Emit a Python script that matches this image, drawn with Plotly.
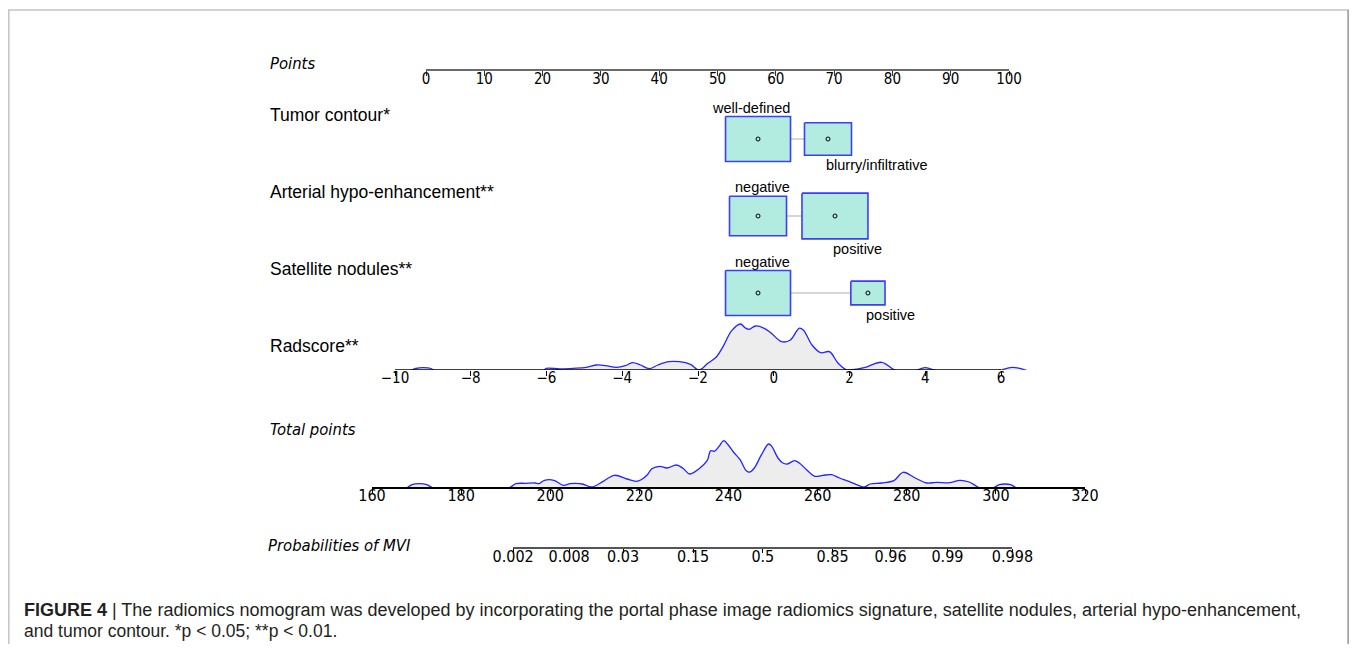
import numpy as np
import plotly.graph_objects as go

# reference canvas and page offset (browser body margin)
REF_W, REF_H = 1357, 652
OFF = 8
W, H = REF_W - 2 * OFF, REF_H - 2 * OFF

# ---------------- data ----------------
points_ticks = list(range(0, 101, 10))
rad_ticks = [-10, -8, -6, -4, -2, 0, 2, 4, 6]
total_ticks = list(range(160, 321, 20))
prob_ticks = [0.002, 0.008, 0.03, 0.15, 0.5, 0.85, 0.96, 0.99, 0.998]
prob_labels = ["0.002", "0.008", "0.03", "0.15", "0.5", "0.85", "0.96", "0.99", "0.998"]

tumor_levels = ["well-defined", "blurry/infiltrative"]
tumor_points = [56.95, 68.95]
tumor_freq = [0.65, 0.34]

art_levels = ["negative", "positive"]
art_points = [56.95, 70.15]
art_freq = [0.50, 0.67]

sat_levels = ["negative", "positive"]
sat_points = [56.95, 75.8]
sat_freq = [0.65, 0.18]

# Radscore density (radscore value, relative density)
rad_x = [-9.60, -9.45, -9.25, -9.05, -8.95, -7.5, -6.10, -6.00, -5.65, -5.30, -4.95, -4.67,
         -4.44, -4.15, -3.92, -3.73, -3.52, -3.29, -3.06, -2.77, -2.49, -2.20, -1.97,
         -1.74, -1.51, -1.34, -1.11, -0.88, -0.75, -0.65, -0.48, -0.25, -0.08, 0.21,
         0.44, 0.67, 0.78, 1.01, 1.24, 1.47, 1.70, 1.93, 2.00, 2.39, 2.85, 3.19, 3.45,
         3.70, 4.00, 4.34, 5.1, 5.89, 6.30, 6.69]
rad_d = [-0.01, 0.015, 0.023, 0.015, -0.01, -0.03, -0.01, 0.017, 0.010, 0.017, 0.027, 0.050,
         0.043, 0.027, 0.043, 0.073, 0.050, 0.013, 0.050, 0.083, 0.083, 0.057, 0.0,
         0.067, 0.133, 0.233, 0.393, 0.460, 0.420, 0.407, 0.440, 0.417, 0.373, 0.283,
         0.300, 0.417, 0.400, 0.250, 0.173, 0.183, 0.067, 0.0, 0.0, 0.023, 0.077, 0.0, -0.02,
         -0.01, 0.023, -0.01, -0.03, -0.01, 0.027, -0.005]

# Total points density (total points, relative density)
tot_x = [167.8, 169.0, 170.6, 172.3, 173.8, 182.0, 190.7, 192.3, 194.5, 196.6, 197.4, 198.7,
         200.8, 202.9, 204.5, 207.2, 209.3, 211.9, 214.4, 217.2, 219.3, 220.4, 221.8,
         222.8, 224.6, 226.2, 228.3, 229.7, 231.3, 233.4, 235.2, 236.0, 236.8, 237.9,
         238.9, 240.0, 241.1, 242.6, 244.0, 244.8, 245.8, 247.4, 249.0, 249.7, 251.1,
         252.2, 253.2, 254.8, 255.9, 257.5, 259.4, 261.2, 263.1, 264.9, 267.0, 269.7,
         270.5, 271.8, 274.4, 277.1, 279.2, 281.9, 284.5, 286.6, 289.8, 291.9, 294.0,
         296.2, 297.8, 299.3, 300.8, 302.0, 303.3, 304.6]
tot_d = [-0.01, 0.023, 0.033, 0.023, -0.01, -0.03, -0.01, 0.033, 0.037, 0.040, 0.033, 0.067,
         0.067, 0.017, 0.033, 0.030, 0.0, 0.057, 0.117, 0.080, 0.057, 0.073, 0.123,
         0.183, 0.207, 0.190, 0.220, 0.190, 0.130, 0.183, 0.263, 0.363, 0.357, 0.407,
         0.463, 0.417, 0.350, 0.273, 0.163, 0.150, 0.190, 0.323, 0.430, 0.407, 0.290,
         0.240, 0.230, 0.263, 0.240, 0.173, 0.107, 0.117, 0.123, 0.090, 0.057, 0.007,
         0.0, 0.030, 0.040, 0.063, 0.147, 0.090, 0.040, 0.047, 0.043, 0.067, 0.050,
         -0.005, -0.02, -0.01, 0.023, 0.030, 0.023, -0.01]

# logistic link: logit(p) = slope * (TP - tp50)
lp_slope = 0.1109
tp50 = 247.7

# ---------------- layout constants (reference pixels) ----------------
PTS_PX = (426, 1009)            # 0 .. 100 points
RAD_PX0, RAD_PPU = 395, 37.875  # radscore -10 position, px per unit
TOT_PX = (372, 1085)            # 160 .. 320
ROW_PTS = 70
ROW_BOX = [139, 216, 293]
ROW_RAD = 370
ROW_TOT = 487
ROW_PROB = 548
DENS_H = 47
BOX_KW, BOX_KH = 80.6, 55.8

NARROW = "Liberation Sans Narrow, Arial Narrow, DejaVu Sans Condensed, sans-serif"
REG = "Liberation Sans, Arial, Helvetica, sans-serif"


def fx(px):
    return (px - OFF) / W


def fy(py):
    return 1 - (py - OFF) / H


pts_per_px = (points_ticks[-1] - points_ticks[0]) / (PTS_PX[1] - PTS_PX[0])

fig = go.Figure()

# ---------------- categorical rows ----------------
rows = [("Tumor contour*", tumor_levels, tumor_points, tumor_freq),
        ("Arterial hypo-enhancement**", art_levels, art_points, art_freq),
        ("Satellite nodules**", sat_levels, sat_points, sat_freq)]

annotations = []
for (title, levels, pts, freq), yc in zip(rows, ROW_BOX):
    fig.add_trace(go.Scatter(x=[min(pts), max(pts)], y=[yc, yc], mode="lines",
                             line=dict(color="#c8c8c8", width=1.5),
                             xaxis="x", yaxis="y", hoverinfo="skip", showlegend=False))
    for i, (lev, p, f) in enumerate(zip(levels, pts, freq)):
        hw = BOX_KW * np.sqrt(f) / 2 * pts_per_px
        hh = BOX_KH * np.sqrt(f) / 2
        fig.add_trace(go.Scatter(x=[p - hw, p + hw, p + hw, p - hw, p - hw],
                                 y=[yc - hh, yc - hh, yc + hh, yc + hh, yc - hh],
                                 mode="lines", fill="toself", fillcolor="#b2ebe0",
                                 line=dict(color="#3d3dff", width=1.6),
                                 xaxis="x", yaxis="y", hoverinfo="skip", showlegend=False))
        fig.add_trace(go.Scatter(x=[p], y=[yc], mode="markers",
                                 marker=dict(symbol="circle-open", size=4, color="black",
                                             line=dict(width=1)),
                                 xaxis="x", yaxis="y", hoverinfo="skip", showlegend=False))
        if i == 0:
            annotations.append(dict(x=p, y=yc - hh, xref="x", yref="y", text=lev,
                                    showarrow=False, xanchor="right", yanchor="bottom",
                                    xshift=34, yshift=-1,
                                    font=dict(family=REG, size=14.5, color="black")))
        else:
            annotations.append(dict(x=p, y=yc + hh, xref="x", yref="y", text=lev,
                                    showarrow=False, xanchor="left", yanchor="top",
                                    xshift=-4, yshift=0,
                                    font=dict(family=REG, size=14.5, color="black")))
    annotations.append(dict(x=fx(268), y=yc - 24, xref="paper", yref="y", text=title,
                            showarrow=False, xanchor="left", yanchor="middle",
                            font=dict(family=REG, size=17.5, color="black")))

# ---------------- radscore density ----------------
fig.add_trace(go.Scatter(x=rad_x, y=rad_d, mode="lines", line_shape="spline",
                         line=dict(color="#2424ff", width=1.3), fill="tozeroy",
                         fillcolor="#ededed", xaxis="x2", yaxis="y2",
                         hoverinfo="skip", showlegend=False))
fig.add_trace(go.Scatter(x=[rad_ticks[0], rad_ticks[-1]], y=[0, 0], mode="lines",
                         line=dict(color="black", width=1.5), xaxis="x2", yaxis="y2",
                         hoverinfo="skip", showlegend=False))
annotations.append(dict(x=fx(268), y=ROW_RAD - 24, xref="paper", yref="y", text="Radscore**",
                        showarrow=False, xanchor="left", yanchor="middle",
                        font=dict(family=REG, size=17.5, color="black")))

# ---------------- total points density ----------------
fig.add_trace(go.Scatter(x=tot_x, y=tot_d, mode="lines", line_shape="spline",
                         line=dict(color="#2424ff", width=1.3), fill="tozeroy",
                         fillcolor="#ededed", xaxis="x3", yaxis="y3",
                         hoverinfo="skip", showlegend=False))

# probability axis positions on total points scale
prob_tp = [tp50 + np.log(p / (1 - p)) / lp_slope for p in prob_ticks]
fig.add_trace(go.Scatter(x=prob_tp, y=[0] * len(prob_tp), mode="markers",
                         marker=dict(opacity=0), xaxis="x4", yaxis="y3",
                         hoverinfo="skip", showlegend=False))

tot_ppu = (TOT_PX[1] - TOT_PX[0]) / (total_ticks[-1] - total_ticks[0])


def tot_px(tp):
    return TOT_PX[0] + (tp - total_ticks[0]) * tot_ppu


# italic labels
for txt, xx, yy in [("Points", 268, 63), ("Total points", 268, 429),
                    ("Probabilities of MVI", 266, 545)]:
    annotations.append(dict(x=fx(xx), y=yy, xref="paper", yref="y", text="<i>" + txt + "</i>",
                            showarrow=False, xanchor="left", yanchor="middle",
                            font=dict(family=NARROW, size=16.5, color="black")))

# caption
annotations.append(dict(x=fx(22), y=610, xref="paper", yref="y",
                        text="<b>FIGURE 4</b> | The radiomics nomogram was developed by incorporating the portal phase image radiomics signature, satellite nodules, arterial hypo-enhancement,",
                        showarrow=False, xanchor="left", yanchor="middle",
                        font=dict(family=REG, size=18, color="#231f20")))
annotations.append(dict(x=fx(22), y=OFF + H - 1, xref="paper", yref="y",
                        text="and tumor contour. *p &lt; 0.05; **p &lt; 0.01.",
                        showarrow=False, xanchor="left", yanchor="bottom",
                        font=dict(family=REG, size=17.5, color="#231f20")))

rad_hi = 6.9
tick_font = dict(family=NARROW, size=15, color="black")
tick_font2 = dict(family=NARROW, size=16, color="black")

fig.update_layout(
    width=W, height=H, autosize=False,
    margin=dict(l=0, r=0, t=0, b=0, pad=0, autoexpand=False),
    paper_bgcolor="white", plot_bgcolor="rgba(0,0,0,0)",
    showlegend=False,
    xaxis=dict(domain=[fx(PTS_PX[0]), fx(PTS_PX[1])], range=[points_ticks[0], points_ticks[-1]],
               anchor="free", position=fy(ROW_PTS), showline=True, linecolor="#6a6a6a",
               linewidth=2, ticks="outside", ticklen=5, tickcolor="#333", tickwidth=1,
               tickvals=points_ticks, tickfont=tick_font, ticklabelstandoff=-10,
               showgrid=False, zeroline=False, automargin=False, fixedrange=True),
    yaxis=dict(domain=[0, 1], range=[OFF + H, OFF], visible=False, fixedrange=True,
               automargin=False),
    xaxis2=dict(domain=[fx(RAD_PX0), fx(RAD_PX0 + (rad_hi - rad_ticks[0]) * RAD_PPU)],
                range=[rad_ticks[0], rad_hi], anchor="y2", showline=False,
                ticks="outside", ticklen=5, tickcolor="black", tickwidth=1,
                tickvals=rad_ticks, tickfont=tick_font, ticklabelstandoff=-11,
                showgrid=False, zeroline=False, automargin=False),
    yaxis2=dict(domain=[fy(ROW_RAD), fy(ROW_RAD - DENS_H)], range=[0, 0.47], visible=False,
                automargin=False),
    xaxis3=dict(domain=[fx(TOT_PX[0]), fx(TOT_PX[1])], range=[total_ticks[0], total_ticks[-1]],
                anchor="y3", showline=True, linecolor="black", linewidth=1.5,
                ticks="outside", ticklen=5, tickcolor="black", tickwidth=1,
                tickvals=total_ticks, tickfont=tick_font2, ticklabelstandoff=-12,
                showgrid=False, zeroline=False, automargin=False),
    yaxis3=dict(domain=[fy(ROW_TOT), fy(ROW_TOT - DENS_H)], range=[0, 0.47], visible=False,
                automargin=False),
    xaxis4=dict(domain=[fx(tot_px(prob_tp[0])), fx(tot_px(prob_tp[-1]))],
                range=[prob_tp[0], prob_tp[-1]], anchor="free", position=fy(ROW_PROB),
                showline=True, linecolor="#555", linewidth=1.5,
                ticks="outside", ticklen=4, tickcolor="black", tickwidth=1,
                tickvals=prob_tp, ticktext=prob_labels, tickfont=tick_font2,
                ticklabelstandoff=-10,
                showgrid=False, zeroline=False, automargin=False),
    annotations=annotations,
    shapes=[dict(type="rect", xref="paper", yref="paper", x0=fx(8.8), x1=fx(1348.2),
                 y0=-0.2, y1=fy(10), line=dict(color="#c4c4c4", width=1.5)),
            dict(type="line", xref="paper", yref="paper", x0=fx(1348.2), x1=fx(1348.2),
                 y0=-0.2, y1=fy(10), line=dict(color="#a0a0a0", width=1.5))],
)

fig.write_html("out.html")
